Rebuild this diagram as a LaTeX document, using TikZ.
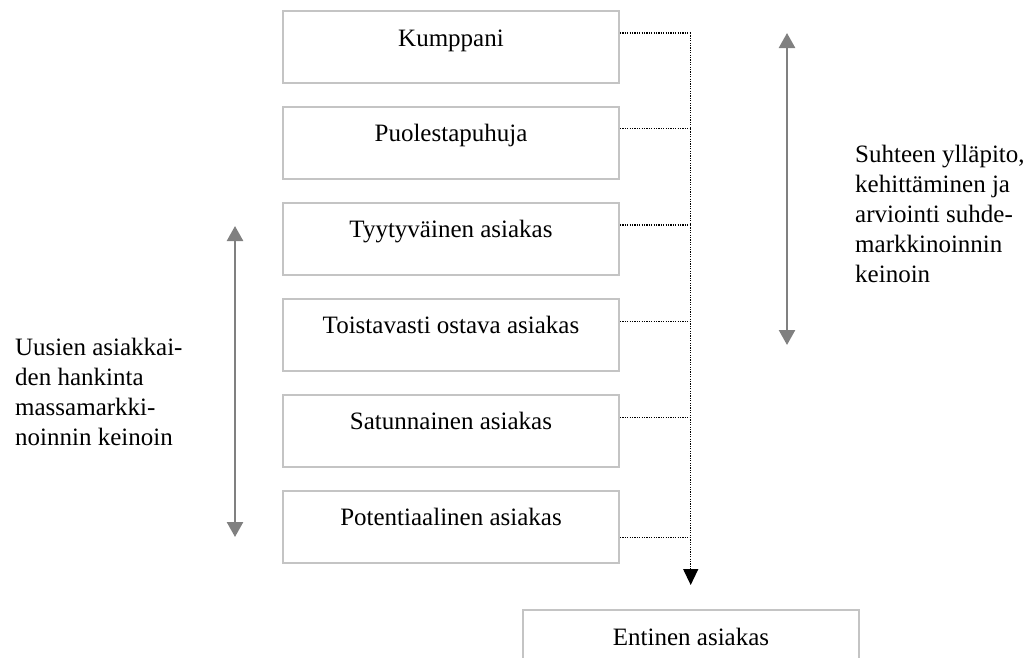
\documentclass[tikz,border=0pt]{standalone}
\usepackage{fontspec}
\setmainfont{Liberation Serif}
\usetikzlibrary{arrows.meta,calc}
\definecolor{boxgray}{HTML}{C4C4C4}
\definecolor{arrgray}{HTML}{808080}
\begin{document}
\begin{tikzpicture}[x=1pt,y=-1pt,
  every node/.style={font=\fontsize{25}{30}\selectfont},
  stagebox/.style={draw=boxgray,line width=2pt,minimum width=336pt,
    text height=17pt,text depth=19pt,inner ysep=18pt,inner xsep=4pt,anchor=north},
  dotline/.style={line width=1.3pt,dash pattern=on 1.2pt off 1.2pt,black},
  grayarrow/.style={draw=arrgray,line width=2.5pt,
    {Triangle[length=15pt,width=16pt,fill=arrgray]}-{Triangle[length=15pt,width=16pt,fill=arrgray]}},
  sidetext/.style={align=left,anchor=north west,inner sep=0pt}
  ]
\useasboundingbox (0,0) rectangle (1035,657);
\node[stagebox] (b1) at (451,10) {Kumppani};
\node[stagebox] (b2) at (451,105.9) {Puolestapuhuja};
\node[stagebox] (b3) at (451,201.8) {Tyytyväinen asiakas};
\node[stagebox] (b4) at (451,297.7) {Toistavasti ostava asiakas};
\node[stagebox] (b5) at (451,393.6) {Satunnainen asiakas};
\node[stagebox] (b6) at (451,489.5) {Potentiaalinen asiakas};
\node[stagebox] (b7) at (691,609) {Entinen asiakas};

\coordinate (t1) at (690.7,33);
\coordinate (t2) at (690.7,128.5);
\coordinate (t3) at (690.7,225);
\coordinate (t4) at (690.7,321.5);
\coordinate (t5) at (690.7,417.5);
\coordinate (t6) at (690.7,537.5);
\coordinate (tend) at (690.7,585);

\draw[dotline] (b1.east |- t1) -- (t1);
\draw[dotline] (b2.east |- t2) -- (t2);
\draw[dotline] (b3.east |- t3) -- (t3);
\draw[dotline] (b4.east |- t4) -- (t4);
\draw[dotline] (b5.east |- t5) -- (t5);
\draw[dotline] (b6.east |- t6) -- (t6);
\draw[dotline,-{Triangle[length=16pt,width=15pt,fill=black]}] (t1) -- (tend);

\coordinate (r1) at (787,33);
\coordinate (r2) at (787,345);
\draw[grayarrow] (r1) -- (r2);
\coordinate (l1) at (235,226);
\coordinate (l2) at (235,537);
\draw[grayarrow] (l1) -- (l2);

\node[sidetext] (rt) at (855,145) {Suhteen ylläpito,\\kehittäminen ja\\arviointi suhde-\\markkinoinnin\\keinoin};
\node[sidetext] (lt) at (15,338) {Uusien asiakkai-\\den hankinta\\massamarkki-\\noinnin keinoin};
\end{tikzpicture}
\end{document}
